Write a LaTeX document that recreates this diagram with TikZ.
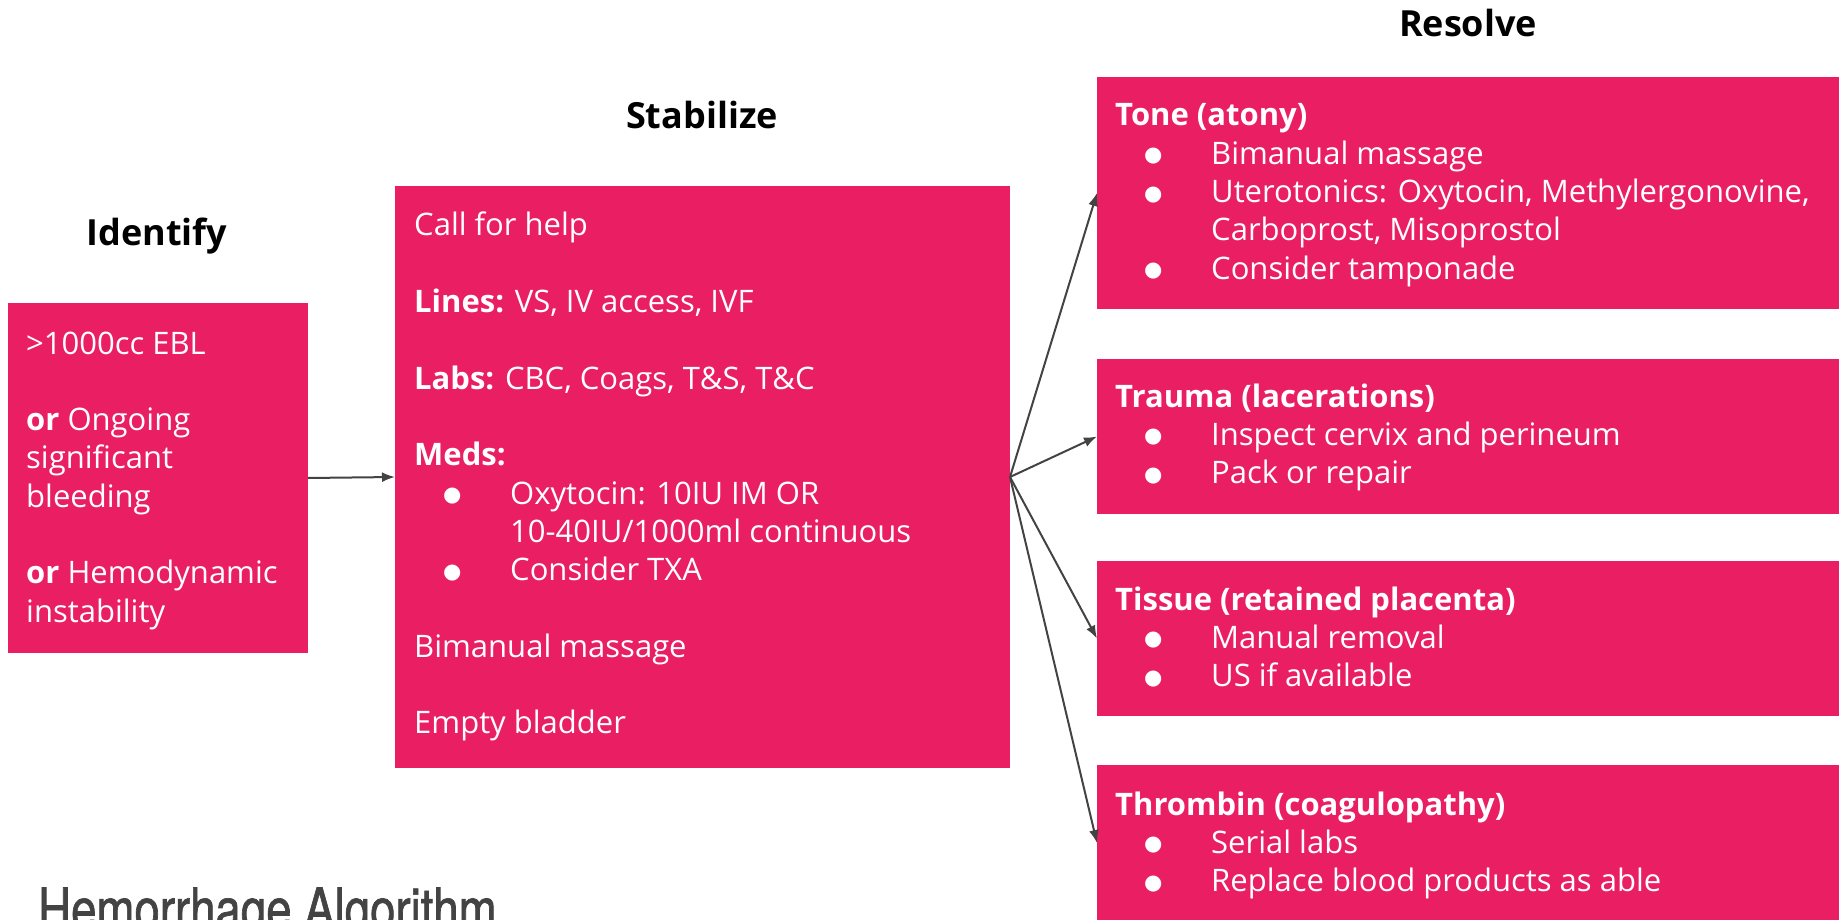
\documentclass[tikz,border=0pt]{standalone}
\usepackage{fontspec}
\setmainfont{Open Sans}
\newfontfamily\dotfont{DejaVu Sans}
\newfontfamily\titlefont[FakeStretch=0.8, FakeBold=1.2]{TeX Gyre Heros}
\usetikzlibrary{arrows.meta, positioning}

\definecolor{boxpink}{HTML}{E91E63}
\definecolor{arrowgray}{HTML}{434343}

\newcommand{\bodyfont}{\fontsize{31}{38.3}\selectfont}
\newcommand{\bul}{\makebox[96pt][l]{\hspace{38pt}\makebox[0pt]{\raisebox{2.5pt}{\dotfont\fontsize{21}{21}\selectfont ●}}}}
\newcommand{\cont}{\hspace*{96pt}}
\newcommand{\gap}{\\[38.3pt]}

\begin{document}
\begin{tikzpicture}[x=1pt, y=-1pt,
	pinkbox/.style={fill=boxpink, draw=none, anchor=north west, inner sep=0pt, outer sep=0pt},
	boxtext/.style={anchor=base west, inner sep=0pt, text=white, font=\bodyfont},
	heading/.style={anchor=base, inner sep=0pt, font=\fontsize{36}{36}\selectfont\bfseries},
	flow/.style={draw=arrowgray, line width=2pt, -{Latex[length=13pt,width=10pt]}}]
		
		\useasboundingbox (0,0) rectangle (1839,920);
		
		%//column headings
		\node [heading] (hIdentify) at (157, 245) {Identify};
		\node [heading] (hStabilize) at (702, 129) {Stabilize};
		\node [heading] (hResolve) at (1468, 37) {Resolve};
		
		%//boxes
		\node [pinkbox, minimum width=300, minimum height=350] (identify) at (8, 303) {};
		\node [pinkbox, minimum width=615, minimum height=582] (stab) at (395, 186) {};
		
		\def\xstep{1097}
		\node [pinkbox, minimum width=760, minimum height=232] (tone) at (\xstep, 77) {};
		\node [pinkbox, minimum width=760, minimum height=155] (trauma) at (\xstep, 359) {};
		\node [pinkbox, minimum width=760, minimum height=155] (tissue) at (\xstep, 561) {};
		\node [pinkbox, minimum width=760, minimum height=156] (thrombin) at (\xstep, 765) {};
		
		%//texts
		\node [boxtext] (tIdentify) at (26, 354) {\parbox[t]{280pt}{%
			>1000cc EBL\gap
			\textbf{or} Ongoing\\ significant\\ bleeding\gap
			\textbf{or} Hemodynamic\\ instability}};
		
		\node [boxtext] (tStab) at (414, 236) {\parbox[t]{590pt}{%
			Call for help\gap
			\textbf{Lines:} VS, IV access, IVF\gap
			\textbf{Labs:} CBC, Coags, T\&S, T\&C\gap
			\textbf{Meds:}\\
			\bul Oxytocin: 10IU IM OR\\
			\cont 10-40IU/1000ml continuous\\
			\bul Consider TXA\gap
			Bimanual massage\gap
			Empty bladder}};
		
		\def\xstep{1115}
		\node [boxtext] (tTone) at (\xstep, 126) {\parbox[t]{720pt}{%
			\textbf{Tone (atony)}\\
			\bul Bimanual massage\\
			\bul Uterotonics: Oxytocin, Methylergonovine,\\
			\cont Carboprost, Misoprostol\\
			\bul Consider tamponade}};
		
		\node [boxtext] (tTrauma) at (\xstep, 407) {\parbox[t]{720pt}{%
			\textbf{Trauma (lacerations)}\\
			\bul Inspect cervix and perineum\\
			\bul Pack or repair}};
		
		\node [boxtext] (tTissue) at (\xstep, 610) {\parbox[t]{720pt}{%
			\textbf{Tissue (retained placenta)}\\
			\bul Manual removal\\
			\bul US if available}};
		
		\node [boxtext] (tThrombin) at (\xstep, 815) {\parbox[t]{720pt}{%
			\textbf{Thrombin (coagulopathy)}\\
			\bul Serial labs\\
			\bul Replace blood products as able}};
		
		%//title, cut by the lower edge
		\node [anchor=base west, inner sep=0pt, text=arrowgray, font=\titlefont\fontsize{57}{57}\selectfont] (title) at (38, 929) {Hemorrhage Algorithm};
		
		%//arrows
		\draw [flow] (identify.east) -- (stab.west);
		\foreach \t in {tone, trauma, tissue, thrombin}
		\draw [flow] (stab.east) -- (\t.west);
		
\end{tikzpicture}
\end{document}
